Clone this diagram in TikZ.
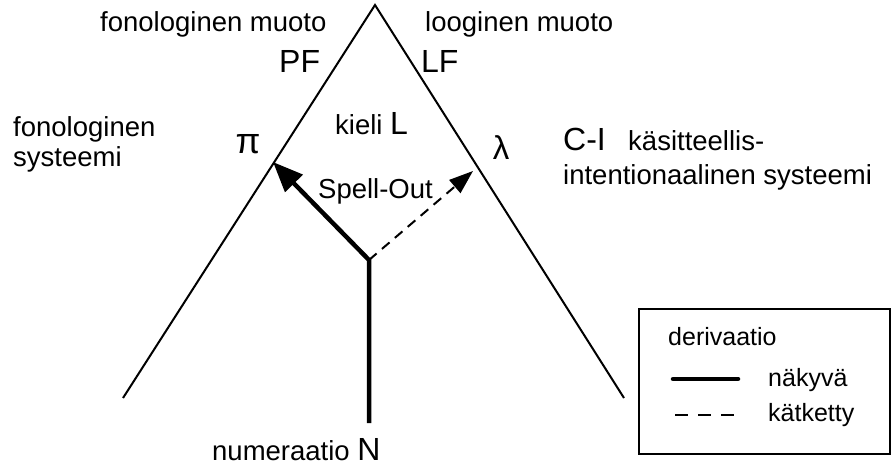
\documentclass[tikz,border=0pt]{standalone}
\usepackage{fontspec}
\setmainfont{Liberation Sans}
\usetikzlibrary{arrows.meta}
\begin{document}
\begin{tikzpicture}[x=1pt,y=-1pt,
  txt/.style={inner sep=0pt, anchor=base west, font=\fontsize{27.5}{32}\selectfont},
  bigtxt/.style={inner sep=0pt, anchor=base west, font=\fontsize{32}{38}\selectfont},
  legtxt/.style={inner sep=0pt, anchor=base west, font=\fontsize{25}{30}\selectfont},
  greek/.style={inner sep=0pt, anchor=center},
  leg/.style={line width=2pt},
  overt/.style={line width=4.5pt, -{Triangle[length=30pt,width=24pt]}},
  covert/.style={line width=2pt, dash pattern=on 10pt off 7pt, -{Triangle[length=24pt,width=17pt]}},
  box/.style={line width=2pt}
]
\useasboundingbox (0,0) rectangle (893,465);
% triangle
\coordinate (apex) at (375,5);
\coordinate (lend) at (123,398);
\coordinate (rend) at (624,398);
\draw[leg] (lend) -- (apex) -- (rend);
% derivation
\coordinate (bottom) at (369,423);
\coordinate (fork) at (369,260);
\coordinate (pitip) at (273,162);
\coordinate (lamtip) at (473,171);
\draw[overt] (bottom) -- (fork) -- (pitip);
\draw[covert] (fork) -- (lamtip);
% labels
\node[txt] (fm) at (100,32) {fonologinen muoto};
\node[txt] (lm) at (425,32) {looginen muoto};
\node[bigtxt] (pf) at (279,73) {PF};
\node[bigtxt] (lf) at (421,73) {LF};
\node[txt] (fs1) at (13,137) {fonologinen};
\node[txt] (fs2) at (13,167) {systeemi};
\node[greek, font=\fontsize{36}{40}\selectfont] (pi) at (248,144) {π};
\node[greek, font=\fontsize{33}{38}\selectfont] (lam) at (501,148) {λ};
\node[txt] (kl) at (335,135) {kieli {\fontsize{32}{38}\selectfont L}};
\node[txt] (so) at (318,198) {Spell-Out};
\node[bigtxt] (ci) at (563,150) {C-I};
\node[txt] (ci1) at (628,150) {käsitteellis-};
\node[txt] (ci2) at (563,185) {intentionaalinen systeemi};
\node[txt] (num) at (212,460) {numeraatio {\fontsize{32}{38}\selectfont N}};
% legend
\coordinate (bx1) at (639,309);
\coordinate (bx2) at (890,454);
\draw[box] (bx1) rectangle (bx2);
\node[legtxt] (der) at (668,345) {derivaatio};
\node[legtxt] (nak) at (768,386) {näkyvä};
\node[legtxt] (kat) at (768,421) {kätketty};
\coordinate (s1) at (673,379);
\coordinate (s2) at (738,379);
\coordinate (d1) at (675,415);
\coordinate (d2) at (738,415);
\draw[line width=4.5pt, line cap=round] (s1) -- (s2);
\draw[line width=2pt, dash pattern=on 13pt off 10pt] (d1) -- (d2);
\end{tikzpicture}
\end{document}
